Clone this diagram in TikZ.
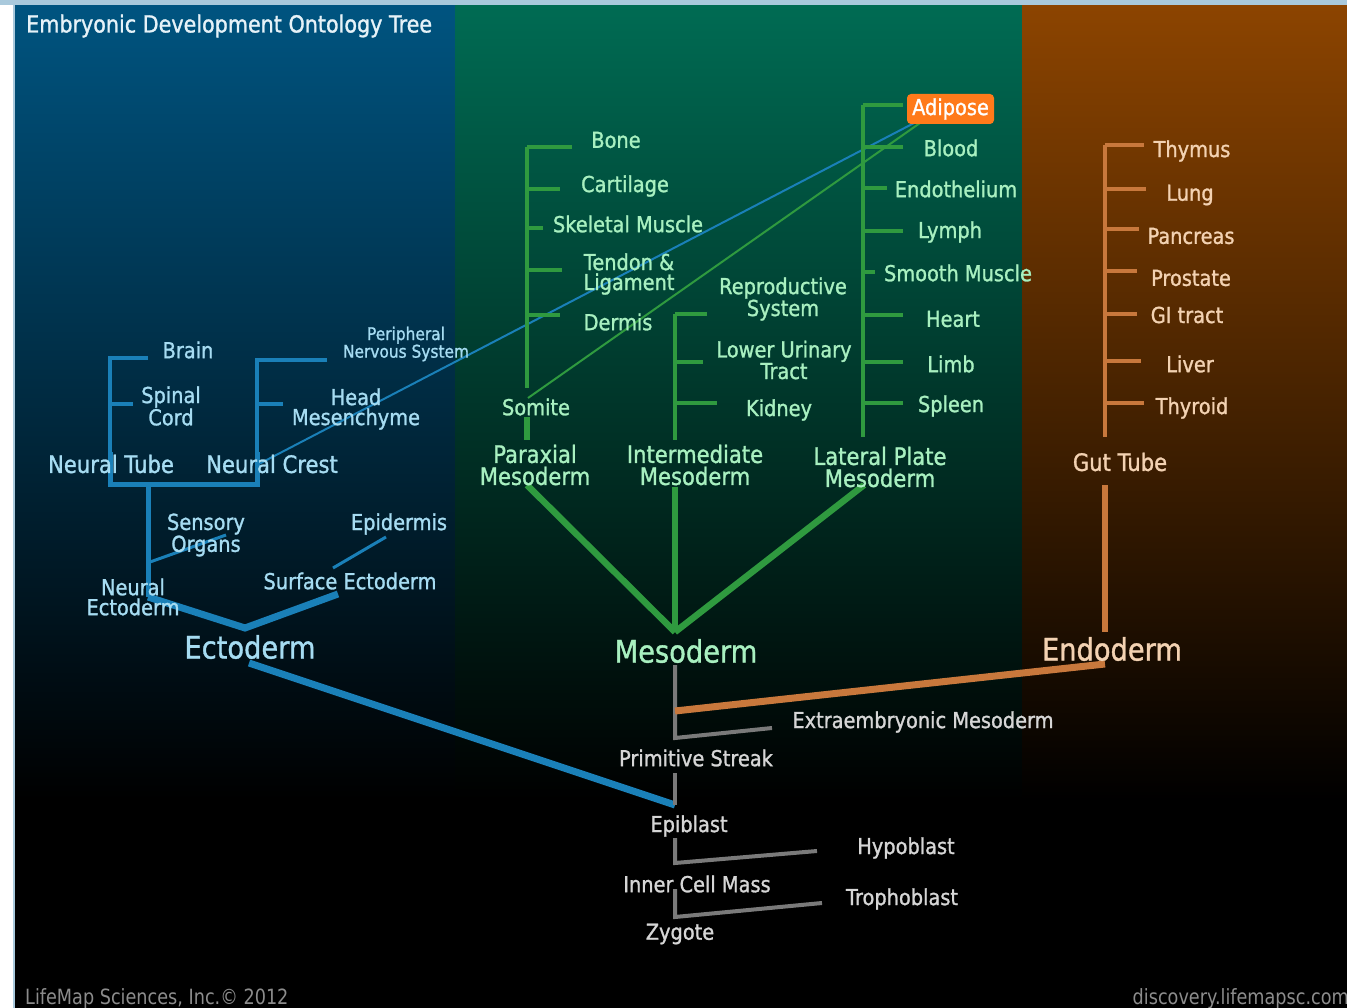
\documentclass[tikz,border=0pt]{standalone}
\usepackage{fontspec}
\setmainfont[FakeStretch=0.88,FakeBold=1.2]{DejaVu Sans}
\newfontfamily\footfam[FakeStretch=0.84]{DejaVu Sans}
\definecolor{bluetop}{HTML}{005480}
\definecolor{bluemid}{HTML}{002E46}
\definecolor{greentop}{HTML}{006B53}
\definecolor{greenmid}{HTML}{003B2D}
\definecolor{orangetop}{HTML}{8C4400}
\definecolor{orangemid}{HTML}{4A2200}
\definecolor{framecol}{HTML}{A9C9DC}
\definecolor{bluetxt}{HTML}{A6DCF2}
\definecolor{greentxt}{HTML}{A8F0C0}
\definecolor{orangetxt}{HTML}{F3D2B2}
\definecolor{graytxt}{HTML}{D6D6D6}
\definecolor{titletxt}{HTML}{E6F2F8}
\definecolor{foottxt}{HTML}{8C8C8C}
\definecolor{blueln}{HTML}{1A80B8}
\definecolor{greenln}{HTML}{2F9A3F}
\definecolor{orangeln}{HTML}{C8783C}
\definecolor{grayln}{HTML}{7A7A7A}
\definecolor{adipcol}{HTML}{FF7A1A}
\tikzset{
  lab/.style={inner sep=0pt, align=center, font=\fontsize{22}{20}\selectfont},
  labm/.style={inner sep=0pt, align=center, font=\fontsize{24}{22}\selectfont},
  labl/.style={inner sep=0pt, align=center, font=\fontsize{31}{31}\selectfont},
  labs/.style={inner sep=0pt, align=center, font=\fontsize{17.5}{16}\selectfont},
  tb/.style={text=bluetxt}, tgn/.style={text=greentxt},
  tor/.style={text=orangetxt}, tgy/.style={text=graytxt},
  foot/.style={inner sep=0pt, text=foottxt, font=\footfam\fontsize{21}{21}\selectfont},
  bbr/.style={draw=blueln, line width=3.5pt},
  bthk/.style={draw=blueln, line width=5pt},
  bfat/.style={draw=blueln, line width=7pt},
  bthin/.style={draw=blueln, line width=3pt},
  bcross/.style={draw=blueln, line width=2pt},
  gbr/.style={draw=greenln, line width=3.5pt},
  gthk/.style={draw=greenln, line width=6pt},
  gfat/.style={draw=greenln, line width=6.5pt},
  gcross/.style={draw=greenln, line width=2pt},
  obr/.style={draw=orangeln, line width=4pt},
  othk/.style={draw=orangeln, line width=6pt},
  ofat/.style={draw=orangeln, line width=7pt},
  gyln/.style={draw=grayln, line width=4pt},
}
\begin{document}
\begin{tikzpicture}[x=1pt,y=-1pt]
\useasboundingbox (0,0) rectangle (1347,1008);
% backgrounds
\fill[white] (0,0) rectangle (1347,1008);
\fill[black] (15,5) rectangle (1347,1008);
\shade[top color=bluetop, middle color=bluemid, bottom color=black] (15,5) rectangle (455,800);
\shade[top color=greentop, middle color=greenmid, bottom color=black] (455,5) rectangle (1022,800);
\shade[top color=orangetop, middle color=orangemid, bottom color=black] (1022,5) rectangle (1347,800);
\fill[framecol] (0,0) rectangle (1347,5);
\fill[framecol] (13,5) rectangle (15,1008);

% ---------- coordinates ----------
% blue
\coordinate (ntTop) at (110,358);
\coordinate (ntMid) at (110,452);
\coordinate (ntBot) at (110,484);
\coordinate (brainE) at (148,358);
\coordinate (spinalE) at (133,404);
\coordinate (ncTop) at (257,360);
\coordinate (ncMid) at (257,452);
\coordinate (ncBot) at (257,484);
\coordinate (pnsE) at (327,360);
\coordinate (headE) at (283,404);
\coordinate (ectTop) at (148,484);
\coordinate (neJ) at (148,597);
\coordinate (ectJ) at (245,628);
\coordinate (seJ) at (338,594);
\coordinate (soS) at (150,562);
\coordinate (soE) at (226,535);
\coordinate (epS) at (333,568);
\coordinate (epE) at (386,537);
\coordinate (ectS) at (249,663);
\coordinate (epiJ) at (675,805);
\coordinate (crossB) at (257,465);
\coordinate (adB) at (916,122);
% green
\coordinate (somTop) at (527,147);
\coordinate (somBot) at (527,388);
\coordinate (boneE) at (572,147);
\coordinate (cartE) at (560,189);
\coordinate (skelE) at (543,228);
\coordinate (tendE) at (562,270);
\coordinate (dermE) at (560,315);
\coordinate (somS) at (527,417);
\coordinate (parT) at (527,440);
\coordinate (crossG) at (528,398);
\coordinate (adG) at (920,123);
\coordinate (intTop) at (675,314);
\coordinate (intBot) at (675,440);
\coordinate (reprE) at (707,314);
\coordinate (lutE) at (703,362);
\coordinate (kidE) at (717,403);
\coordinate (latTop) at (863,105);
\coordinate (latBot) at (863,437);
\coordinate (adipE) at (903,105);
\coordinate (bloodE) at (903,147);
\coordinate (endoE) at (887,188);
\coordinate (lymphE) at (903,231);
\coordinate (smoothE) at (875,272);
\coordinate (heartE) at (903,315);
\coordinate (limbE) at (903,362);
\coordinate (spleenE) at (903,403);
\coordinate (parB) at (527,485);
\coordinate (intB) at (675,487);
\coordinate (latB) at (864,485);
\coordinate (mesoJ) at (675,632);
% orange
\coordinate (gutTop) at (1105,145);
\coordinate (gutBot) at (1105,437);
\coordinate (thyE) at (1144,145);
\coordinate (lungE) at (1146,189);
\coordinate (panE) at (1139,229);
\coordinate (proE) at (1137,271);
\coordinate (giE) at (1137,314);
\coordinate (livE) at (1141,361);
\coordinate (thrE) at (1144,403);
\coordinate (gutB) at (1105,485);
\coordinate (endoJ) at (1105,632);
\coordinate (endoS) at (1105,664);
\coordinate (psJ) at (675,711);
% gray
\coordinate (mesoS) at (675,665);
\coordinate (extJ) at (675,738);
\coordinate (extE) at (772,728);
\coordinate (psS) at (675,773);
\coordinate (epiS) at (675,838);
\coordinate (hypJ) at (675,863);
\coordinate (hypE) at (817,851);
\coordinate (icmS) at (675,889);
\coordinate (troJ) at (675,917);
\coordinate (troE) at (822,903);

% ---------- connectors ----------
% ectoderm
\draw[bbr] (brainE) -- (ntTop) -- (ntMid);
\draw[bbr] (ntTop |- spinalE) -- (spinalE);
\draw[bbr] (pnsE) -- (ncTop) -- (ncMid);
\draw[bbr] (ncTop |- headE) -- (headE);
\draw[bthk] (ntMid) -- (ntBot) -- (ncBot) -- (ncMid);
\draw[bthk] (ectTop) -- (neJ);
\draw[bfat] (neJ) -- (ectJ) -- (seJ);
\draw[bthin] (soS) -- (soE);
\draw[bthin] (epS) -- (epE);
\draw[bfat] (ectS) -- (epiJ);
\draw[bcross] (crossB) -- (adB);
% mesoderm
\draw[gbr] (somTop) -- (somBot);
\foreach \e in {boneE,cartE,skelE,tendE,dermE} \draw[gbr] (somTop |- \e) -- (\e);
\draw[gthk] (somS) -- (parT);
\draw[gcross] (crossG) -- (adG);
\draw[gbr] (intTop) -- (intBot);
\foreach \e in {reprE,lutE,kidE} \draw[gbr] (intTop |- \e) -- (\e);
\draw[gbr] (latTop) -- (latBot);
\foreach \e in {adipE,bloodE,endoE,lymphE,smoothE,heartE,limbE,spleenE} \draw[gbr] (latTop |- \e) -- (\e);
\draw[gfat] (parB) -- (mesoJ);
\draw[gfat] (intB) -- (mesoJ);
\draw[gfat] (latB) -- (mesoJ);
% endoderm
\draw[obr] (gutTop) -- (gutBot);
\foreach \e in {thyE,lungE,panE,proE,giE,livE,thrE} \draw[obr] (gutTop |- \e) -- (\e);
\draw[othk] (gutB) -- (endoJ);
% gray stem
\draw[gyln] (mesoS) -- (extJ) -- (extE);
\draw[gyln] (psS) -- (epiJ);
\draw[gyln] (epiS) -- (hypJ) -- (hypE);
\draw[gyln] (icmS) -- (troJ) -- (troE);
\draw[ofat] (endoS) -- (psJ);

% ---------- labels ----------
\node[inner sep=0pt, anchor=west, text=titletxt, font=\fontsize{23.5}{23}\selectfont] (title) at (26,26) {Embryonic Development Ontology Tree};
% blue
\node[lab,tb] (brain) at (188,350) {Brain};
\node[lab,tb] (spinal) at (171,406) {Spinal\\Cord};
\node[labs,tb] (pns) at (406,344) {Peripheral\\Nervous System};
\node[lab,tb] (headm) at (356,409) {Head\\Mesenchyme};
\node[labm,tb] (ntube) at (111,464) {Neural Tube};
\node[labm,tb] (ncrest) at (272,464) {Neural Crest};
\node[lab,tb] (sensory) at (206,535) {Sensory\\Organs};
\node[lab,tb] (epid) at (399,524) {Epidermis};
\node[lab,tb] (nect) at (133,597) {Neural\\Ectoderm};
\node[lab,tb] (surf) at (350,581) {Surface Ectoderm};
\node[labl,tb] (ecto) at (250,647) {Ectoderm};
% green
\node[lab,tgn] (bone) at (616,140) {Bone};
\node[lab,tgn] (cart) at (625,186) {Cartilage};
\node[lab,tgn] (skel) at (628,224) {Skeletal Muscle};
\node[lab,tgn] (tendon) at (629,274) {Tendon \&\\Ligament};
\node[lab,tgn] (dermis) at (618,322) {Dermis};
\node[lab,tgn] (somite) at (536,407) {Somite};
\node[lab,tgn] (repro) at (783,299) {Reproductive\\System};
\node[lab,tgn] (lut) at (784,360) {Lower Urinary\\Tract};
\node[lab,tgn] (kidney) at (779,410) {Kidney};
\node[lab, text=white, fill=adipcol, rounded corners=4pt, minimum width=87pt, minimum height=30pt] (adipose) at (950.5,109) {Adipose};
\node[lab,tgn] (blood) at (951,148) {Blood};
\node[lab,tgn] (endoth) at (956,189) {Endothelium};
\node[lab,tgn] (lymph) at (950,232) {Lymph};
\node[lab,tgn] (smooth) at (958,273) {Smooth Muscle};
\node[lab,tgn] (heart) at (953,319) {Heart};
\node[lab,tgn] (limb) at (951,364) {Limb};
\node[lab,tgn] (spleen) at (951,406) {Spleen};
\node[labm,tgn] (parax) at (535,465) {Paraxial\\Mesoderm};
\node[labm,tgn] (inter) at (695,465) {Intermediate\\Mesoderm};
\node[labm,tgn] (lateral) at (880,467) {Lateral Plate\\Mesoderm};
\node[labl,tgn] (meso) at (686,651) {Mesoderm};
% orange
\node[lab,tor] (thymus) at (1192,151) {Thymus};
\node[lab,tor] (lung) at (1190,195) {Lung};
\node[lab,tor] (pancreas) at (1191,236) {Pancreas};
\node[lab,tor] (prostate) at (1191,278) {Prostate};
\node[lab,tor] (gi) at (1187,315) {GI tract};
\node[lab,tor] (liver) at (1190,364) {Liver};
\node[lab,tor] (thyroid) at (1192,408) {Thyroid};
\node[labm,tor] (gut) at (1120,462) {Gut Tube};
\node[labl,tor] (endoderm) at (1112,649) {Endoderm};
% gray
\node[lab,tgy] (extra) at (923,722) {Extraembryonic Mesoderm};
\node[lab,tgy] (prim) at (696,758) {Primitive Streak};
\node[lab,tgy] (epi) at (689,826) {Epiblast};
\node[lab,tgy] (hypo) at (906,848) {Hypoblast};
\node[lab,tgy] (icm) at (697,884) {Inner Cell Mass};
\node[lab,tgy] (tropho) at (902,899) {Trophoblast};
\node[lab,tgy] (zyg) at (680,934) {Zygote};
% footer
\node[foot, anchor=west] (footl) at (25,999) {LifeMap Sciences, Inc.© 2012};
\node[foot, anchor=east] (footr) at (1349,999) {discovery.lifemapsc.com};
\end{tikzpicture}
\end{document}
